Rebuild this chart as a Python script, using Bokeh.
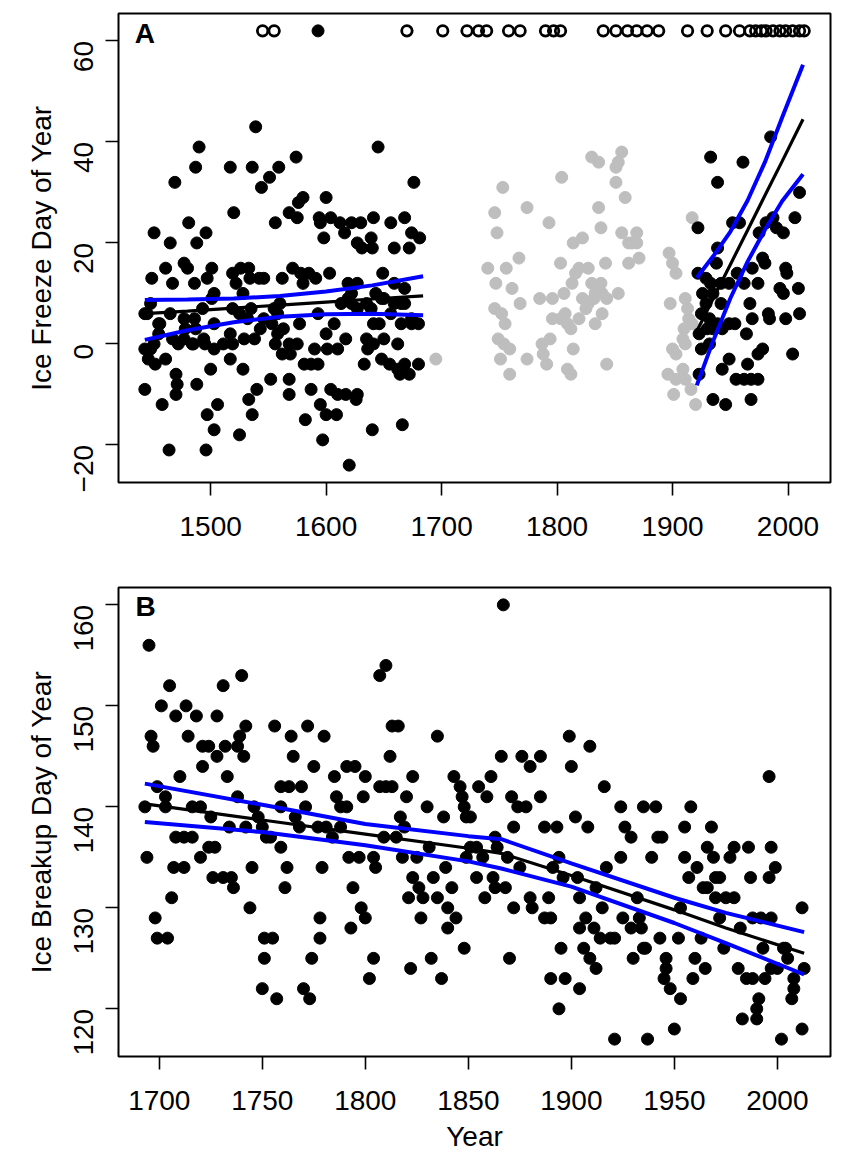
import math
from bokeh.plotting import figure
from bokeh.layouts import column
from bokeh.models import Label, FixedTicker, Range1d
from bokeh.embed import file_html
from bokeh.resources import INLINE

# ---------------- Panel A data: ice freeze day of year ----------------
early_year = [1539, 1490, 1645, 1487, 1517, 1536, 1559, 1574, 1551, 1544, 1469, 1676, 1580, 1576, 1600,
              1520, 1568, 1575, 1556, 1594, 1595, 1604, 1612, 1622, 1630, 1641, 1656, 1668, 1674, 1681,
              1481, 1451, 1496, 1465, 1488, 1598, 1616, 1627, 1639, 1631, 1640, 1659, 1672, 1477, 1480,
              1501, 1461, 1497, 1449, 1486, 1467, 1526, 1533, 1519, 1534, 1546, 1522, 1562, 1571, 1578,
              1585, 1591, 1603, 1580, 1619, 1627, 1649, 1659, 1668, 1443, 1445, 1448, 1456, 1455, 1448,
              1443, 1446, 1452, 1461, 1467, 1477, 1478, 1487, 1493, 1486, 1494, 1472, 1484, 1495, 1503,
              1503, 1511, 1517, 1519, 1529, 1525, 1532, 1535, 1528, 1519, 1501, 1503, 1546, 1543, 1538,
              1555, 1560, 1556, 1562, 1568, 1569, 1575, 1577, 1563, 1590, 1581, 1587, 1593, 1601, 1610,
              1600, 1607, 1617, 1619, 1613, 1622, 1627, 1635, 1643, 1650, 1641, 1646, 1635, 1636, 1641,
              1650, 1662, 1665, 1674, 1680, 1656, 1665, 1633, 1648, 1655, 1662, 1668, 1680, 1664, 1672,
              1443, 1458, 1470, 1471, 1470, 1488, 1500, 1506, 1497, 1503, 1517, 1528, 1525, 1536, 1533,
              1540, 1552, 1568, 1568, 1582, 1587, 1595, 1600, 1609, 1604, 1610, 1617, 1627, 1626, 1597,
              1620, 1640, 1666, 1464, 1496, 1593, 1542, 1558, 1553, 1558, 1593, 1622, 1639, 1648, 1659,
              1668, 1674, 1477, 1465, 1455, 1451, 1485]
early_day = [43, 39, 39, 35, 35, 35, 35, 37, 33, 31, 32, 32, 29, 28, 29,
             26, 26, 25, 24, 25, 24, 25, 24, 24, 24, 25, 24, 25, 22, 21,
             24, 22, 22, 20, 20, 21, 22, 20, 21, 19, 19, 19, 19, 16, 15,
             15, 15, 13, 13, 12, 12, 15, 15, 14, 13, 13, 12, 13, 15, 14,
             14, 13, 14, 12, 12, 12, 14, 12, 11, 6, 6, 8, 4, 4, -1,
             -1, -3, -4, -3, 1, 1, 3, 3, 7, 5, 1, 0, 0, 0, -1,
             4, 0, 2, 0, 1, 6, 5, 7, 10, 7, 9, 10, 5, 3, 1,
             7, 8, 0, -2, 0, -2, 0, 4, 3, -1, -4, -4, -4, -1, -1,
             2, 4, 1, 9, 8, 10, 7, 8, 10, 9, 4, 4, 1, -1, 0,
             1, 0, 4, 4, 4, 6, 8, -4, -3, -4, -5, -4, -4, -6, -6,
             -9, -12, -6, -8, -10, -8, -5, -12, -14, -17, -3, -5, -18, -14, -11,
             -9, -7, -7, -10, -15, -9, -12, -14, -14, -9, -10, -10, -10, -11, -19,
             -24, -17, -16, -21, -21, 62, 13, 6, 4, 2, 6, 8, 7, 9, 8,
             8, 5, 5, 6, 2, 0, 0]

mid_year = [1695, 1753, 1804, 1746, 1774, 1748, 1793, 1740, 1756, 1767, 1747, 1761, 1768, 1746, 1752,
            1755, 1749, 1754, 1759, 1751, 1759, 1774, 1791, 1788, 1787, 1794, 1785, 1796, 1803, 1796,
            1803, 1807, 1809, 1812, 1814, 1809, 1812, 1806, 1813, 1816, 1819, 1814, 1822, 1827, 1830,
            1838, 1833, 1822, 1825, 1827, 1832, 1839, 1843, 1853, 1839, 1819, 1833, 1843, 1836, 1838,
            1842, 1830, 1836, 1851, 1856, 1853, 1851, 1859, 1856, 1862, 1869, 1869, 1865, 1862, 1871,
            1917, 1897, 1900, 1903, 1898, 1911, 1913, 1914, 1917, 1910, 1909, 1911, 1900, 1903, 1909,
            1896, 1903, 1911, 1901, 1916, 1920]
mid_day = [-3, 31, 33, 26, 27, 22, 24, 15, 15, 17, 12, 11, 8, 7, 6,
           4, 1, 0, -1, -3, -6, -3, -4, -2, 0, 1, 9, 9, 16, 5,
           5, 6, 4, 3, -1, -5, -6, 10, 12, 14, 15, 20, 21, 15, 12,
           12, 10, 9, 7, 8, 9, 10, 9, 10, 6, 5, 4, -4, 27, 23,
           16, 37, 36, 35, 38, 36, 32, 29, 22, 20, 22, 20, 20, 16, 17,
           25, 18, 16, 14, 8, 9, 7, 5, 4, 3, 1, 0, -1, -2, -5,
           -6, -7, -7, -10, -9, -12]

late_year = [1933, 1961, 1939, 1985, 2010, 2006, 1922, 1952, 1958, 1987, 1990, 1996, 1975, 1981, 1939,
             1938, 1922, 1929, 1933, 1942, 1949, 1956, 1962, 1969, 1974, 1978, 1980, 1998, 1999, 1993,
             1996, 2009, 1926, 1935, 1929, 1942, 1967, 1925, 1932, 1939, 1949, 1954, 1935, 1923, 1930,
             1943, 1969, 1983, 1984, 1998, 2010, 1964, 1925, 1932, 1949, 1974, 1978, 2004, 1923, 1943,
             1965, 1955, 1962, 1968, 1974, 1935, 1946, 1968]
late_day = [37, 36, 32, 41, 30, 25, 23, 24, 24, 25, 23, 22, 22, 24, 19,
            16, 14, 13, 12, 12, 12, 14, 12, 15, 12, 17, 16, 15, 14, 11,
            10, 11, 10, 10, 8, 8, 8, 6, 5, 4, 4, 4, 3, 2, 3,
            3, 5, 6, 5, 5, 6, 2, -1, 0, -3, -2, -1, -2, -6, -5,
            -4, -7, -7, -7, -7, -11, -12, -11]

nofreeze_year = [1545, 1555, 1670, 1701, 1722, 1732, 1739, 1758, 1768, 1790, 1797, 1803, 1840, 1851,
                 1861, 1869, 1878, 1888, 1913, 1930, 1946, 1958, 1967, 1972, 1977, 1981, 1987, 1993,
                 1998, 2004, 2010, 2014]
nofreeze_day = [62] * len(nofreeze_year)

early_fit_year = [1443, 1480, 1520, 1560, 1600, 1640, 1684]
early_fit = [6.0, 6.5, 7.1, 7.7, 8.3, 8.9, 9.5]
early_upper = [8.7, 8.8, 9.0, 9.5, 10.4, 11.6, 13.4]
early_lower = [0.8, 2.7, 4.3, 5.4, 5.9, 6.0, 5.7]

late_fit_year = [1921, 1935, 1950, 1965, 1980, 1995, 2013]
late_fit = [2.5, 8.9, 15.7, 22.5, 29.4, 36.2, 44.5]
late_upper = [13.1, 17.3, 22.2, 28.4, 36.0, 44.9, 55.3]
late_lower = [-8.2, 0.5, 9.0, 16.3, 22.6, 28.3, 33.6]

# ---------------- Panel B data: ice breakup day of year ----------------
brk_year = [1695, 1705, 1701, 1713, 1708, 1718, 1731, 1740, 1728, 1696, 1697, 1714, 1742, 1739, 1721,
            1724, 1732, 1738, 1728, 1741, 1721, 1710, 1733, 1756, 1764, 1765, 1772, 1780, 1775, 1785,
            1791, 1795, 1800, 1799, 1699, 1703, 1693, 1703, 1716, 1720, 1725, 1738, 1746, 1748, 1750,
            1742, 1734, 1759, 1763, 1769, 1759, 1771, 1766, 1768, 1786, 1788, 1791, 1777, 1781, 1784,
            1788, 1708, 1712, 1716, 1752, 1754, 1759, 1720, 1724, 1727, 1694, 1792, 1797, 1707, 1712,
            1745, 1762, 1779, 1726, 1731, 1735, 1736, 1761, 1794, 1706, 1744, 1798, 1800, 1698, 1778,
            1699, 1704, 1751, 1755, 1778, 1793, 1751, 1774, 1750, 1757, 1770, 1773,
            1867, 1810, 1807, 1813, 1816, 1835, 1812, 1899, 1909, 1900, 1866, 1876, 1885, 1880, 1823,
            1843, 1861, 1916, 1807, 1810, 1813, 1820, 1846, 1847, 1855, 1859, 1871, 1885, 1848, 1830,
            1874, 1878, 1849, 1851, 1817, 1838, 1902, 1908, 1872, 1887, 1893, 1819, 1809, 1815, 1863,
            1831, 1851, 1854, 1864, 1804, 1818, 1825, 1849, 1857, 1869, 1894, 1839, 1805, 1875, 1891,
            1917, 1823, 1833, 1854, 1862, 1896, 1903, 1826, 1842, 1863, 1868, 1912, 1821, 1828, 1835,
            1858, 1880, 1889, 1904, 1840, 1872, 1881, 1827, 1844, 1887, 1890, 1915, 1907, 1840, 1904,
            1911, 1914, 1906, 1848, 1895, 1804, 1832, 1870, 1909, 1912, 1822, 1802, 1837, 1890, 1897,
            1904, 1894,
            1996, 1924, 1935, 1941, 1958, 1926, 1929, 1942, 1944, 1955, 1968, 1924, 1939, 1955, 1966,
            1969, 1977, 1979, 1986, 1997, 1961, 1999, 1957, 1970, 1972, 1987, 1996, 1964, 1966, 1970,
            1975, 1979, 2012, 1925, 1932, 1933, 1953, 1988, 1992, 1997, 1929, 1934, 1972, 1982, 1919,
            1921, 1943, 1952, 1963, 1974, 1993, 2003, 2004, 1935, 1936, 1930, 1946, 1960, 2005, 1946,
            1965, 1981, 1997, 2000, 2013, 1945, 1959, 1985, 1988, 1994, 2008, 2008, 1948, 1991, 1953,
            2007, 1990, 1983, 1990, 1950, 2012, 1921, 1937, 2002]
brk_day = [156, 152, 150, 150, 149, 149, 152, 153, 149, 147, 146, 147, 148, 147, 146,
           146, 146, 146, 145, 145, 144, 143, 143, 148, 147, 145, 148, 147, 144, 143,
           144, 144, 143, 141, 142, 141, 140, 140, 140, 140, 139, 141, 140, 139, 138,
           138, 138, 142, 142, 142, 140, 140, 139, 138, 141, 140, 140, 138, 138, 137,
           138, 137, 137, 137, 137, 137, 136, 135, 136, 136, 135, 135, 135, 134, 134,
           134, 134, 134, 133, 133, 133, 132, 132, 132, 131, 130, 130, 129, 129, 129,
           127, 127, 127, 127, 127, 128, 125, 125, 122, 121, 122, 121,
           160, 154, 153, 148, 148, 147, 145, 147, 146, 144, 145, 145, 145, 144, 143,
           143, 143, 142, 142, 142, 142, 141, 142, 141, 142, 141, 141, 141, 140, 140,
           140, 140, 139, 139, 139, 139, 139, 138, 138, 138, 138, 138, 137, 137, 137,
           136, 136, 136, 136, 135, 135, 135, 135, 135, 135, 135, 134, 134, 134, 134,
           134, 133, 133, 133, 133, 133, 133, 132, 132, 132, 132, 132, 131, 131, 131,
           131, 131, 131, 131, 130, 130, 130, 129, 129, 129, 129, 130, 129, 128, 128,
           128, 127, 126, 126, 126, 125, 125, 125, 125, 124, 124, 123, 123, 123, 123,
           122, 120,
           143, 140, 140, 140, 140, 138, 137, 137, 137, 138, 138, 135, 135, 135, 136,
           135, 135, 136, 136, 136, 134, 134, 133, 133, 133, 133, 133, 132, 132, 131,
           131, 131, 130, 129, 131, 129, 130, 129, 129, 129, 128, 128, 129, 128, 127,
           127, 127, 127, 127, 126, 126, 126, 126, 126, 126, 125, 125, 125, 125, 124,
           124, 124, 124, 124, 124, 123, 123, 123, 123, 123, 123, 122, 122, 121, 121,
           121, 120, 119, 119, 118, 118, 117, 117, 117]

brk_fit_year = [1693, 1750, 1800, 1850, 1866, 1900, 1950, 1975, 2013]
brk_fit = [140.3, 138.7, 137.3, 135.9, 135.4, 133.2, 129.8, 128.0, 125.5]
brk_upper = [142.3, 140.2, 138.3, 137.1, 136.8, 134.4, 131.0, 129.5, 127.6]
brk_lower = [138.5, 137.5, 136.2, 134.6, 133.9, 132.1, 128.5, 126.5, 123.4]

FONT = "Liberation Sans"
FS = "28px"
GRAY = "#bebebe"
BLUE = "#0000ff"
DOT = 12


def style(p, xticks, yticks, ylabel, xlabel=None):
    p.outline_line_color = "black"
    p.outline_line_width = 2
    p.xgrid.visible = False
    p.ygrid.visible = False
    p.background_fill_color = "white"
    p.border_fill_color = "white"
    for ax in (p.xaxis[0], p.yaxis[0]):
        ax.axis_line_color = None
        ax.major_tick_line_color = "black"
        ax.major_tick_line_width = 1.6
        ax.major_tick_in = 0
        ax.major_tick_out = 13
        ax.minor_tick_line_color = None
        ax.major_label_text_font = FONT
        ax.major_label_text_font_size = FS
        ax.major_label_text_color = "black"
        ax.axis_label_text_font = FONT
        ax.axis_label_text_font_size = FS
        ax.axis_label_text_font_style = "normal"
        ax.axis_label_text_color = "black"
    p.xaxis[0].ticker = FixedTicker(ticks=xticks)
    p.yaxis[0].ticker = FixedTicker(ticks=yticks)
    p.yaxis[0].major_label_orientation = math.pi / 2
    p.yaxis[0].major_label_standoff = 22
    p.xaxis[0].major_label_standoff = 21
    p.yaxis[0].axis_label = ylabel
    p.yaxis[0].axis_label_standoff = 5
    p.yaxis[0].major_label_overrides = {t: str(t).replace("-", "\u2212") for t in yticks}
    if xlabel:
        p.xaxis[0].axis_label = xlabel
        p.xaxis[0].axis_label_standoff = 8


# ---------------- Panel A ----------------
pA = figure(width=846, height=552, output_backend="svg", toolbar_location=None,
            x_range=Range1d(1420.2, 2036.8), y_range=Range1d(-27.44, 65.44),
            min_border_left=118, min_border_right=16, min_border_top=13, min_border_bottom=70)
style(pA, [1500, 1600, 1700, 1800, 1900, 2000], [-20, 0, 20, 40, 60], "Ice Freeze Day of Year")

pA.scatter(mid_year, mid_day, size=DOT, marker="circle", fill_color=GRAY, line_color=GRAY)
pA.scatter(early_year, early_day, size=DOT, marker="circle", fill_color="black", line_color="black")
pA.scatter(late_year, late_day, size=DOT, marker="circle", fill_color="black", line_color="black")
pA.scatter(nofreeze_year, nofreeze_day, size=10.5, marker="circle", fill_color=None,
           line_color="black", line_width=2.8)

pA.line(early_fit_year, early_fit, line_color="black", line_width=3.2)
pA.line(early_fit_year, early_upper, line_color=BLUE, line_width=4)
pA.line(early_fit_year, early_lower, line_color=BLUE, line_width=4)
pA.line(late_fit_year, late_fit, line_color="black", line_width=3.2)
pA.line(late_fit_year, late_upper, line_color=BLUE, line_width=4)
pA.line(late_fit_year, late_lower, line_color=BLUE, line_width=4)

pA.add_layout(Label(x=1434.3, y=61.4, text="A", text_font=FONT, text_font_size=FS,
                    text_font_style="bold", text_baseline="middle", text_align="left",
                    text_color="black"))

# ---------------- Panel B ----------------
pB = figure(width=846, height=602, output_backend="svg", toolbar_location=None,
            x_range=Range1d(1680.2, 2025.8), y_range=Range1d(115.28, 161.72),
            min_border_left=118, min_border_right=16, min_border_top=35, min_border_bottom=98)
style(pB, [1700, 1750, 1800, 1850, 1900, 1950, 2000], [120, 130, 140, 150, 160],
      "Ice Breakup Day of Year", "Year")

pB.scatter(brk_year, brk_day, size=DOT, marker="circle", fill_color="black", line_color="black")
pB.line(brk_fit_year, brk_fit, line_color="black", line_width=3.2)
pB.line(brk_fit_year, brk_upper, line_color=BLUE, line_width=4)
pB.line(brk_fit_year, brk_lower, line_color=BLUE, line_width=4)

pB.add_layout(Label(x=1688.4, y=159.8, text="B", text_font=FONT, text_font_size=FS,
                    text_font_style="bold", text_baseline="middle", text_align="left",
                    text_color="black"))

page = column(pA, pB)
open("out.html", "w").write(file_html(page, INLINE))
